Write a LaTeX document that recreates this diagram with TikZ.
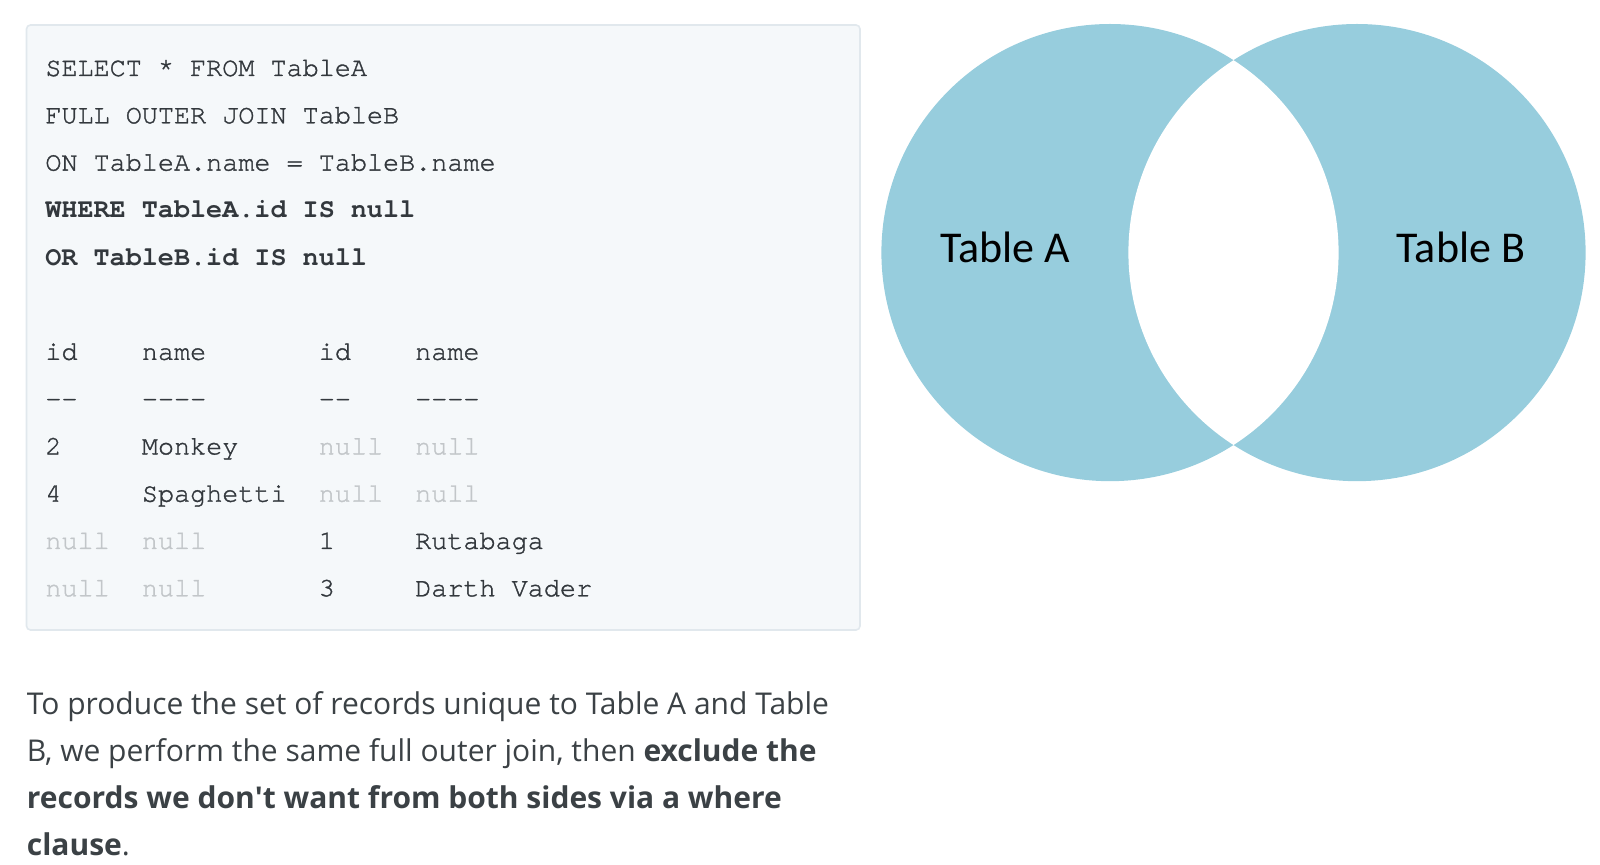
\documentclass[tikz,border=0pt]{standalone}
\usepackage{fontspec}
\setmonofont{texgyrecursor}[Extension=.otf,UprightFont=*-regular,BoldFont=*-bold,UprightFeatures={FakeBold=1.3}]
\newfontfamily\parafont{Open Sans}
\newfontfamily\vennfont{Carlito}
\usepackage{tikz}
\usetikzlibrary{calc}
\definecolor{codebg}{HTML}{F5F8FA}
\definecolor{codeframe}{HTML}{E1E8ED}
\definecolor{codetext}{HTML}{33383D}
\definecolor{nulltext}{HTML}{C2C6C9}
\definecolor{paratext}{HTML}{3B4145}
\definecolor{vennblue}{HTML}{97CDDD}

\begin{document}
\begin{tikzpicture}[x=0.5pt,y=-0.5pt]
  \tikzstyle{code} = [anchor=base west,inner sep=0pt,text=codetext,font=\fontsize{13.4}{16}\ttfamily]
  \tikzstyle{boldcode} = [code,font=\fontsize{13.4}{16}\ttfamily\bfseries]
  \tikzstyle{nullcell} = [code,text=nulltext]
  \tikzstyle{para} = [anchor=base west,inner sep=0pt,text=paratext,font=\fontsize{15}{18}\parafont]
  \tikzstyle{setname} = [anchor=base,inner sep=0pt,text=black,font=\fontsize{22}{24}\vennfont]
  %
  \useasboundingbox (0,0) rectangle (1600,865);
  % Code box.
  \draw[codeframe,fill=codebg,line width=0.8pt,rounded corners=2pt] (26.5,25) rectangle (860,630);
  % Query.
  \node[code] (sql1) at (45,76) {SELECT * FROM TableA};
  \node[code] (sql2) at (45,123.3) {FULL OUTER JOIN TableB};
  \node[code] (sql3) at (45,170.6) {ON TableA.name = TableB.name};
  \node[boldcode] (sql4) at (45,217.9) {WHERE TableA.id IS null};
  \node[boldcode] (sql5) at (45,265.2) {OR TableB.id IS null};
  % Header row.
  \node[code] (h1) at (45,359.8) {id};
  \node[code] (h2) at (141.5,359.8) {name};
  \node[code] (h3) at (318.4,359.8) {id};
  \node[code] (h4) at (414.8,359.8) {name};
  % Rule row.
  \node[code] (d1) at (45,407.1) {-{}-};
  \node[code] (d2) at (141.5,407.1) {-{}-{}-{}-};
  \node[code] (d3) at (318.4,407.1) {-{}-};
  \node[code] (d4) at (414.8,407.1) {-{}-{}-{}-};
  % First record.
  \node[code] (r11) at (45,454.4) {2};
  \node[code] (r12) at (141.5,454.4) {Monkey};
  \node[nullcell] (r13) at (318.4,454.4) {null};
  \node[nullcell] (r14) at (414.8,454.4) {null};
  % Second record.
  \node[code] (r21) at (45,501.7) {4};
  \node[code] (r22) at (141.5,501.7) {Spaghetti};
  \node[nullcell] (r23) at (318.4,501.7) {null};
  \node[nullcell] (r24) at (414.8,501.7) {null};
  % Third record.
  \node[nullcell] (r31) at (45,549) {null};
  \node[nullcell] (r32) at (141.5,549) {null};
  \node[code] (r33) at (318.4,549) {1};
  \node[code] (r34) at (414.8,549) {Rutabaga};
  % Fourth record.
  \node[nullcell] (r41) at (45,596.3) {null};
  \node[nullcell] (r42) at (141.5,596.3) {null};
  \node[code] (r43) at (318.4,596.3) {3};
  \node[code] (r44) at (414.8,596.3) {Darth Vader};
  % Text below.
  \node[para] (line1) at (26.5,714) {To produce the set of records unique to Table A and Table};
  \node[para] (line2) at (26.5,761) {B, we perform the same full outer join, then \textbf{exclude the}};
  \node[para] (line3) at (26.5,808) {\textbf{records we don\textquotesingle t want from both sides via a where}};
  \node[para] (line4) at (26.5,855) {\textbf{clause}.};
  % Venn diagram.
  \coordinate (setA) at (1110,252.6);
  \coordinate (setB) at (1357,252.6);
  \fill[vennblue] (setA) circle (228.6) (setB) circle (228.6);
  \begin{scope}
    \clip (setA) circle (228.6);
    \fill[white] (setB) circle (228.6);
  \end{scope}
  \node[setname] (nameA) at (1005,262.7) {Table A};
  \node[setname] (nameB) at (1461,262.7) {Table B};
\end{tikzpicture}
\end{document}
